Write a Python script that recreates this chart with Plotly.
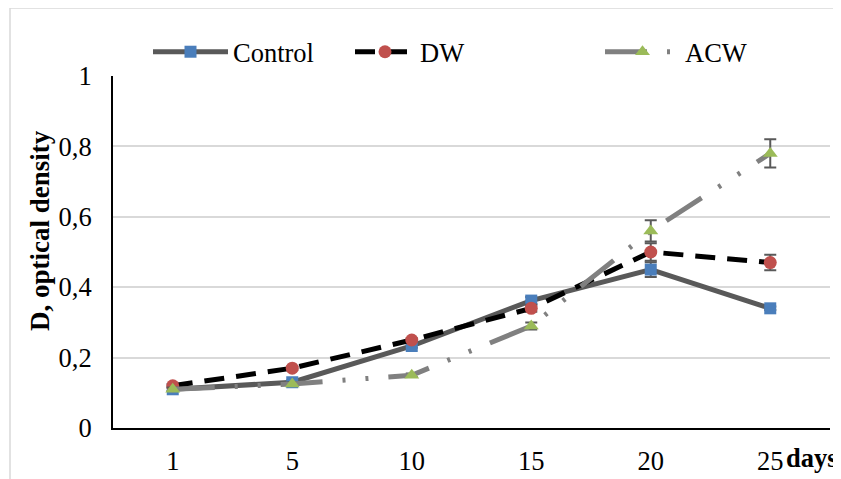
import plotly.graph_objects as go

days = ["1", "5", "10", "15", "20", "25"]
control = [0.11, 0.13, 0.233, 0.362, 0.45, 0.34]
dw = [0.12, 0.17, 0.25, 0.34, 0.50, 0.47]
acw = [0.11, 0.125, 0.15, 0.29, 0.56, 0.78]
control_err = [0.005, 0.005, 0.005, 0.01, 0.021, 0.005]
dw_err = [0.005, 0.005, 0.005, 0.01, 0.025, 0.022]
acw_err = [0.005, 0.005, 0.005, 0.01, 0.03, 0.04]
y_ticks = [0, 0.2, 0.4, 0.6, 0.8, 1]

FONT = "Liberation Serif"
FS = 26.5
OFF = 8  # page body margin
W, H = 841, 479
L, T = 113 - OFF, 76 - OFF
pw, ph = 717, 352
R, B = W - L - pw, H - T - ph


def px(xp):
    return (xp - OFF - L) / pw


def py(yp):
    return (T + ph - (yp - OFF)) / ph


fig = go.Figure()
err_style = dict(type="data", visible=True, color="#595959", thickness=2, width=6)

fig.add_trace(go.Scatter(
    x=days, y=control, name="Control", mode="lines+markers", legend="legend",
    line=dict(color="#595959", width=5),
    marker=dict(symbol="square", size=12, color="#4A7EBB"),
    error_y=dict(array=control_err, **err_style),
))
fig.add_trace(go.Scatter(
    x=days, y=dw, name="DW", mode="lines+markers", legend="legend2",
    line=dict(color="#000000", width=5, dash="20px,12px"),
    marker=dict(symbol="circle", size=13, color="#C0504D"),
    error_y=dict(array=dw_err, **err_style),
))
fig.add_trace(go.Scatter(
    x=days, y=acw, name="ACW", mode="lines+markers", legend="legend3",
    line=dict(color="#808080", width=5, dash="42px,20px,3px,20px,3px,20px"),
    marker=dict(symbol="triangle-up", size=13, color="#9BBB59"),
    error_y=dict(array=acw_err, **err_style),
))


def leg(xp, iw):
    return dict(
        orientation="h", x=px(xp), xanchor="left", y=py(52), yanchor="middle",
        font=dict(family=FONT, size=FS, color="#000000"), itemwidth=iw,
        bgcolor="rgba(0,0,0,0)", borderwidth=0,
    )


fig.update_layout(
    width=W, height=H,
    margin=dict(l=L, r=R, t=T, b=B, pad=0, autoexpand=False),
    paper_bgcolor="white", plot_bgcolor="white",
    separators=", ",
    font=dict(family=FONT, size=FS, color="#000000"),
    showlegend=True,
    legend=leg(148, 75),
    legend2=leg(350, 60),
    legend3=leg(600, 75),
    xaxis=dict(
        type="category", showgrid=False, showline=True, linecolor="#000000",
        linewidth=2, ticks="outside", ticklen=8, tickcolor="rgba(0,0,0,0)",
        tickfont=dict(family=FONT, size=FS), range=[-0.5, 5.5],
        zeroline=False, automargin=False,
    ),
    yaxis=dict(
        range=[0, 1], tickvals=y_ticks, showgrid=True, gridcolor="#D9D9D9",
        gridwidth=1.5, showline=True, linecolor="#000000", linewidth=2,
        ticks="outside", ticklen=14, tickcolor="rgba(0,0,0,0)",
        tickfont=dict(family=FONT, size=FS), zeroline=False, automargin=False,
    ),
    shapes=[dict(
        type="rect", xref="paper", yref="paper",
        x0=px(10), x1=px(W + 20),
        y0=py(H + 20), y1=py(8),
        line=dict(color="#D9D9D9", width=1.5), fillcolor="rgba(0,0,0,0)", layer="below",
    )],
    annotations=[
        dict(
            text="<b>days</b>", xref="paper", yref="paper",
            x=px(784), y=py(458), xanchor="left", yanchor="middle",
            showarrow=False, font=dict(family=FONT, size=FS),
        ),
        dict(
            text="<b>D, optical density</b>", xref="paper", yref="paper",
            x=px(40), y=py(231), xanchor="center", yanchor="middle", textangle=-90,
            showarrow=False, font=dict(family=FONT, size=27),
        ),
    ],
)

fig.write_html("out.html")
